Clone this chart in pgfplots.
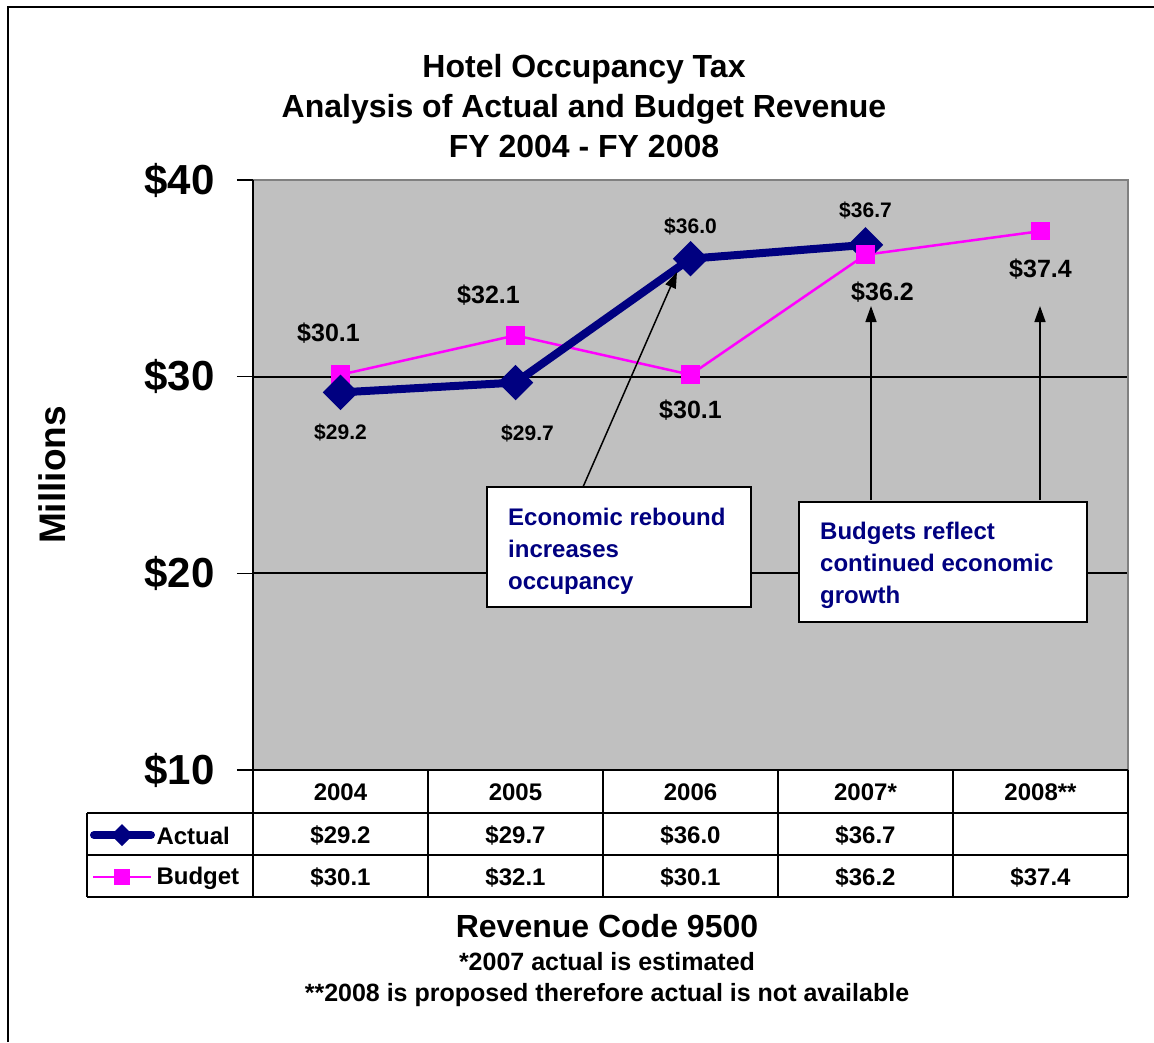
\documentclass[border=0pt]{standalone}
\usepackage{fontspec}
\setmainfont{Liberation Sans}
\usepackage{pgfplots}
\pgfplotsset{compat=1.18}
\usetikzlibrary{arrows.meta}

\definecolor{plotgray}{HTML}{C0C0C0}
\definecolor{bordergray}{HTML}{808080}
\definecolor{actualnavy}{HTML}{000080}
\definecolor{budgetpink}{HTML}{FF00FF}
\newcommand{\fs}[1]{\fontsize{#1}{#1}\selectfont\bfseries}

\begin{document}
\begin{tikzpicture}[x=1pt,y=1pt]
\useasboundingbox (0,0) rectangle (1154,-1042);
% outer frame (left and top visible)
\draw[line width=2pt] (8,-1042) -- (8,-7) -- (1154,-7);

% title
\node[font=\fs{32}, anchor=base] at (584,-77) {Hotel Occupancy Tax};
\node[font=\fs{32}, anchor=base] at (584,-117) {Analysis of Actual and Budget Revenue};
\node[font=\fs{32}, anchor=base] at (584,-157) {FY 2004 - FY 2008};

\begin{axis}[
    at={(253pt,-770pt)}, anchor=south west,
    scale only axis, width=875pt, height=590pt,
    xmin=-0.5, xmax=4.5, ymin=10, ymax=40,
    clip=false,
    axis background/.style={fill=plotgray},
    axis line style={draw=none},
    xtick=\empty,
    ytick={10,20,30,40},
    yticklabels={\$10,\$20,\$30,\$40},
    ytick pos=left, tick align=outside,
    major tick length=16pt,
    tick style={black, line width=1.5pt},
    yticklabel style={font=\fs{42}, xshift=-19pt},
    extra y ticks={20,30},
    extra y tick labels={},
    extra y tick style={grid=major, major tick length=0pt,
      major grid style={black, line width=1.8pt}},
]
\draw[bordergray, line width=2pt] (rel axis cs:0,1) -- (rel axis cs:1,1) -- (rel axis cs:1,0);
\draw[black, line width=2pt] (rel axis cs:0,0) -- (rel axis cs:0,1);

% Budget
\addplot[budgetpink, line width=2.5pt, mark=square*, mark size=8pt]
  coordinates {(0,30.1) (1,32.1) (2,30.1) (3,36.2) (4,37.4)};
% Actual
\addplot[actualnavy, line width=8pt, mark=square*, mark size=8.5pt,
  mark options={rotate=45}]
  coordinates {(0,29.2) (1,29.7) (2,36.0) (3,36.7)};
\addplot[budgetpink, line width=2.5pt, mark=square*, mark size=8pt, forget plot]
  coordinates {(3,36.2)};

% data labels, actual
\node[font=\fs{21}, yshift=-40pt] at (axis cs:0,29.2) {\$29.2};
\node[font=\fs{21}, xshift=12pt, yshift=-51pt] at (axis cs:1,29.7) {\$29.7};
\node[font=\fs{21}, yshift=32pt] at (axis cs:2,36.0) {\$36.0};
\node[font=\fs{21}, yshift=34pt] at (axis cs:3,36.7) {\$36.7};
% data labels, budget
\node[font=\fs{25}, xshift=-12pt, yshift=42pt] at (axis cs:0,30.1) {\$30.1};
\node[font=\fs{25}, xshift=-27pt, yshift=40pt] at (axis cs:1,32.1) {\$32.1};
\node[font=\fs{25}, yshift=-35pt] at (axis cs:2,30.1) {\$30.1};
\node[font=\fs{25}, xshift=17pt, yshift=-37pt] at (axis cs:3,36.2) {\$36.2};
\node[font=\fs{25}, yshift=-38pt] at (axis cs:4,37.4) {\$37.4};
\end{axis}

% annotation arrows
\draw[line width=1.5pt, -{Triangle[length=16pt,width=11pt]}] (583,-487) -- (677,-272);
\draw[line width=1.5pt, -{Triangle[length=16pt,width=11pt]}] (871,-500) -- (871,-306);
\draw[line width=1.5pt, -{Triangle[length=16pt,width=11pt]}] (1040,-500) -- (1040,-306);

% annotation boxes
\draw[fill=white, line width=1.5pt] (487,-487) rectangle (751,-607);
\node[font=\fs{24}, text=actualnavy, anchor=base west, inner sep=0pt] at (508,-525) {Economic rebound};
\node[font=\fs{24}, text=actualnavy, anchor=base west, inner sep=0pt] at (508,-557) {increases};
\node[font=\fs{24}, text=actualnavy, anchor=base west, inner sep=0pt] at (508,-589) {occupancy};
\draw[fill=white, line width=1.5pt] (799,-502) rectangle (1087,-622);
\node[font=\fs{24}, text=actualnavy, anchor=base west, inner sep=0pt] at (820,-539) {Budgets reflect};
\node[font=\fs{24}, text=actualnavy, anchor=base west, inner sep=0pt] at (820,-571) {continued economic};
\node[font=\fs{24}, text=actualnavy, anchor=base west, inner sep=0pt] at (820,-603) {growth};

% y label
\node[font=\fs{37}, rotate=90] at (52,-475) {Millions};

% data table
\begin{scope}[line width=2pt]
\draw (253,-770) -- (1128,-770);
\draw (87,-813) -- (1128,-813);
\draw (87,-855) -- (1128,-855);
\draw (87,-897) -- (1128,-897);
\draw (87,-813) -- (87,-897);
\foreach \xx in {253,428,603,778,953,1128} \draw (\xx,-770) -- (\xx,-897);
\end{scope}
\foreach \xx/\lab in {340.5/2004,515.5/2005,690.5/2006,865.5/2007*,1040.5/2008**}
  \node[font=\fs{24}] at (\xx,-792) {\lab};
\foreach \xx/\lab in {340.5/29.2,515.5/29.7,690.5/36.0,865.5/36.7}
  \node[font=\fs{24}] at (\xx,-835) {\$\lab};
\foreach \xx/\lab in {340.5/30.1,515.5/32.1,690.5/30.1,865.5/36.2,1040.5/37.4}
  \node[font=\fs{24}] at (\xx,-877) {\$\lab};
% legend keys
\draw[actualnavy, line width=8pt, line cap=round] (94,-835) -- (151,-835);
\fill[actualnavy] (122,-824) -- (133,-835) -- (122,-846) -- (111,-835) -- cycle;
\node[font=\fs{24}, anchor=west] at (153,-836) {Actual};
\draw[budgetpink, line width=2.5pt] (93,-877) -- (151,-877);
\fill[budgetpink] (114,-869) rectangle (130,-885);
\node[font=\fs{24}, anchor=west] at (153,-878) {Budget};

% footer
\node[font=\fs{32}] at (607,-926) {Revenue Code 9500};
\node[font=\fs{25}] at (607,-962) {*2007 actual is estimated};
\node[font=\fs{25}] at (607,-995) {**2008 is proposed therefore actual is not available};
\end{tikzpicture}
\end{document}
